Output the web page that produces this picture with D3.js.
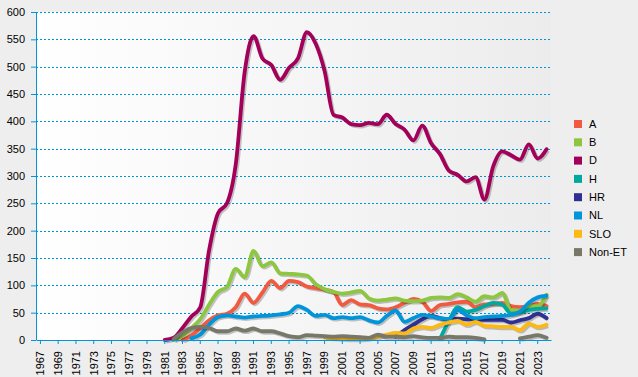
<!DOCTYPE html>
<html>
<head>
<meta charset="utf-8">
<script src="https://cdn.jsdelivr.net/npm/d3@7"></script>
<style>
  body { margin: 0; background: #eeeeee; }
  svg { display: block; font-family: Arial, "Liberation Sans", sans-serif; }
</style>
</head>
<body>
<div id="chart"></div>
<script>
// categories
var years = d3.range(1967, 2025);
var yTicks = [0, 50, 100, 150, 200, 250, 300, 350, 400, 450, 500, 550, 600];
var seriesNames = ["A", "B", "D", "H", "HR", "NL", "SLO", "Non-ET"];

// series values, each starting at its first year
var startA = 1983;
var valuesA = [0, 8, 22, 36, 45, 48, 60, 85, 68, 87, 108, 95, 108, 106, 98, 95, 92, 88, 64, 73, 65, 64, 58, 56, 60, 68, 75, 70, 53, 64, 66, 69, 70, 60, 65, 66, 68, 62, 60, 62, 66, 62];
var startB = 1982;
var valuesB = [0, 8, 22, 38, 65, 88, 97, 130, 115, 163, 135, 142, 122, 121, 120, 118, 102, 93, 88, 85, 87, 90, 76, 72, 74, 76, 72, 71, 72, 77, 78, 77, 84, 78, 70, 80, 78, 86, 55, 54, 62, 62, 83];
var startD = 1981;
var valuesD = [0, 4, 22, 43, 60, 165, 232, 250, 322, 490, 556, 515, 503, 476, 498, 515, 563, 542, 492, 412, 407, 395, 393, 397, 395, 412, 395, 385, 365, 392, 360, 340, 310, 302, 290, 298, 257, 318, 345, 338, 330, 358, 332, 349];
var startH = 2012;
var valuesH = [2, 35, 60, 52, 55, 62, 68, 65, 48, 50, 55, 57, 58];
var startHR = 2007;
var valuesHR = [6, 18, 28, 38, 44, 40, 37, 39, 38, 38, 37, 37, 37, 32, 36, 40, 48, 40];
var startNL = 1984;
var valuesNL = [3, 10, 28, 42, 45, 43, 41, 43, 44, 45, 47, 50, 62, 55, 44, 46, 40, 42, 40, 42, 36, 32, 44, 54, 33, 40, 46, 43, 40, 38, 55, 45, 40, 42, 43, 44, 46, 52, 68, 78, 81];
var startSLO = 1999;
var valuesSLO = [5, 4, 3, 2, 2, 4, 6, 10, 13, 12, 21, 24, 22, 28, 32, 35, 28, 33, 26, 25, 24, 24, 18, 30, 24, 28];
var startNonET = 1982;
var valuesNonET = [2, 14, 22, 24, 22, 16, 16, 21, 17, 21, 16, 16, 12, 7, 5, 9, 8, 7, 6, 7, 6, 5, 4, 10, 6, 6, 5, 7, 5, 4, 4, 6, 5, 5, 4, 1, null, null, null, 3, 6, 9, 4];

var colors = ["#f15a40", "#8dc63f", "#a3005a", "#00a99d", "#2e3192", "#0095da", "#fdb913", "#77776a"];

var starts = [startA, startB, startD, startH, startHR, startNL, startSLO, startNonET];
var valueLists = [valuesA, valuesB, valuesD, valuesH, valuesHR, valuesNL, valuesSLO, valuesNonET];

var series = seriesNames.map(function(name, i) {
  return {
    name: name,
    color: colors[i],
    points: valueLists[i].map(function(v, j) { return {year: starts[i] + j, value: v}; })
  };
});

var W = 638, H = 377;
var margin = {top: 12, right: 87, bottom: 37, left: 36},
    width = W - margin.left - margin.right,
    height = H - margin.top - margin.bottom;

var svg = d3.select("#chart")
  .append("svg")
    .attr("width", W)
    .attr("height", H);

var defs = svg.append("defs");
var grad = defs.append("linearGradient")
  .attr("id", "bg")
  .attr("x1", "0%").attr("x2", "100%").attr("y1", "0%").attr("y2", "0%");
grad.append("stop").attr("offset", "0%").attr("stop-color", "#ffffff");
grad.append("stop").attr("offset", "100%").attr("stop-color", "#ececec");

svg.append("rect")
  .attr("width", W).attr("height", H)
  .attr("fill", "#eeeeee");

var g = svg.append("g")
  .attr("transform", "translate(" + margin.left + "," + margin.top + ")");

g.append("rect")
  .attr("width", width).attr("height", height)
  .attr("fill", "url(#bg)");

var x = d3.scaleBand()
  .domain(years)
  .range([0, width]);

var y = d3.scaleLinear()
  .domain([0, 600])
  .range([height, 0]);

// grid
g.selectAll(".grid")
  .data(yTicks.filter(function(d) { return d > 0; }))
  .enter()
  .append("line")
    .attr("class", "grid")
    .attr("x1", 0).attr("x2", width)
    .attr("y1", function(d) { return Math.round(y(d)) + 0.5; })
    .attr("y2", function(d) { return Math.round(y(d)) + 0.5; })
    .attr("stroke", "#0095da")
    .attr("stroke-width", 1)
    .attr("stroke-dasharray", "2,2");

// lines
var line = d3.line()
  .defined(function(d) { return d.value != null; })
  .x(function(d) { return x(d.year) + x.bandwidth() / 2; })
  .y(function(d) { return y(d.value); })
  .curve(d3.curveMonotoneX);

series.forEach(function(s) {
  g.append("path")
    .datum(s.points)
    .attr("fill", "none")
    .attr("stroke", "#000")
    .attr("stroke-opacity", 0.22)
    .attr("stroke-width", 3.8)
    .attr("stroke-linejoin", "round")
    .attr("transform", "translate(1.5,1.5)")
    .attr("d", line);
  g.append("path")
    .datum(s.points)
    .attr("fill", "none")
    .attr("stroke", s.color)
    .attr("stroke-width", 3.8)
    .attr("stroke-linejoin", "round")
    .attr("stroke-linecap", "round")
    .attr("d", line);
});

// y axis
var yAxis = g.append("g")
  .call(d3.axisLeft(y).tickValues(yTicks).tickSize(5).tickPadding(6));
yAxis.selectAll("line").attr("stroke", "#0095da");
yAxis.select(".domain").attr("stroke", "#0095da").attr("d", "M0.5," + height + "V0");
yAxis.selectAll("text").attr("fill", "#000").style("font-size", "11px");

// x axis
var xAxis = g.append("g")
  .attr("transform", "translate(0," + height + ")")
  .call(d3.axisBottom(x)
    .tickValues(years.filter(function(d) { return (d - 1967) % 2 === 0; }))
    .tickSize(4)
    .tickSizeOuter(0));
xAxis.selectAll("line").attr("stroke", "#0095da");
xAxis.select(".domain").attr("stroke", "#0095da");
xAxis.selectAll("text")
  .attr("fill", "#000")
  .style("font-size", "11px")
  .attr("transform", "rotate(-90)")
  .attr("text-anchor", "end")
  .attr("x", -11)
  .attr("y", 0)
  .attr("dy", "0.35em");

// legend
var legend = svg.append("g")
  .attr("transform", "translate(574,120)");

var item = legend.selectAll("g")
  .data(series)
  .enter()
  .append("g")
    .attr("transform", function(d, i) { return "translate(0," + (i * 18.3) + ")"; });

item.append("rect")
  .attr("width", 8).attr("height", 8)
  .attr("fill", function(d) { return d.color; });

item.append("text")
  .attr("x", 15)
  .attr("y", 4)
  .attr("dy", "0.35em")
  .style("font-size", "11px")
  .text(function(d) { return d.name; });
</script>
</body>
</html>
